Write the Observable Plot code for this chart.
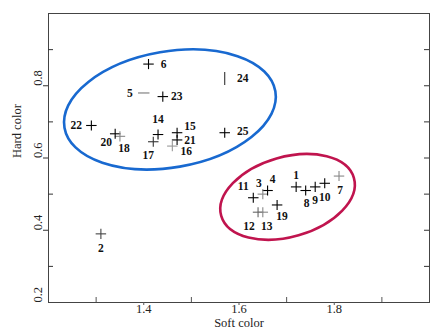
<!DOCTYPE html>
<html><head><meta charset="utf-8">
<script src="https://cdn.jsdelivr.net/npm/d3@7"></script>
<script src="https://cdn.jsdelivr.net/npm/@observablehq/plot@0.6"></script>
<style>body{margin:0;background:#fff}</style>
</head><body><div id="chart"></div>
<script>
// ---- data ----
const ids   = [1,2,3,4,5,6,7,8,9,10,11,12,13,14,15,16,17,18,19,20,21,22,23,24,25];
const soft  = [1.72,1.31,1.65,1.66,1.40,1.41,1.81,1.74,1.76,1.78,1.63,1.64,1.65,1.43,1.47,1.46,1.42,1.35,1.68,1.34,1.47,1.29,1.44,1.57,1.57];
const hard  = [0.52,0.39,0.50,0.51,0.78,0.86,0.55,0.51,0.52,0.53,0.49,0.45,0.45,0.665,0.67,0.633,0.645,0.66,0.47,0.667,0.65,0.69,0.77,0.82,0.67];
const softErr = [0.011,0.011,0.011,0.011,0.012,0.011,0.011,0.011,0.011,0.011,0.011,0.011,0.011,0.011,0.011,0.011,0.011,0.011,0.011,0.011,0.011,0.011,0.011,0,0.011];
const hardErr = [0.014,0.014,0.014,0.014,0,0.014,0.014,0.014,0.014,0.014,0.014,0.014,0.014,0.014,0.014,0.014,0.014,0.014,0.014,0.014,0.014,0.014,0.014,0.018,0.014];
const tone  = ["#000","#444","#888","#000","#777","#000","#888","#000","#000","#000","#000","#666","#888","#000","#000","#999","#333","#888","#000","#000","#000","#000","#000","#333","#000"];
const xTicks = [1.4,1.6,1.8];
const xMinor = [1.3,1.5,1.7,1.9];
const yTicks = [0.2,0.4,0.6,0.8];
const yMinor = [0.3,0.5,0.7,0.9];
const yAll = [0.3,0.4,0.5,0.6,0.7,0.8,0.9];

// ---- layout (label offsets in px, ellipse shapes) ----
const labelOffset = {1:[0,-12],2:[0,14],3:[-4,-11],4:[5,-11],5:[-14,0],6:[15,0],7:[1,14],8:[1,13],9:[0,13],10:[0,14],
  11:[-10,-11],12:[-9,14],13:[4,14],14:[0,-15],15:[13,-6],16:[14,5],17:[-5,14],18:[4,12],19:[5,11],20:[-9,9],
  21:[13,0],22:[-15,0],23:[14,0],24:[18,0],25:[18,-1]};
const ellipses = [
  {cx:1.456, cy:0.733, rx:107, ry:58, angle:9.8, stroke:"#1869d0"},
  {cx:1.703, cy:0.491, rx:69, ry:40, angle:16, stroke:"#c0144e"}
];

const points = ids.map((id,i)=>({id, x:soft[i], y:hard[i], xe:softErr[i], ye:hardErr[i], c:tone[i]}));

const W=447,H=335,mL=48,mR=18,mT=13,mB=33;
const pw=W-mL-mR, ph=H-mT-mB;
const serif = "Liberation Serif, DejaVu Serif, serif";

function ellipseMark(e){
  return (index, scales) => {
    const el = document.createElementNS("http://www.w3.org/2000/svg","ellipse");
    const cx = scales.x(e.cx), cy = scales.y(e.cy);
    el.setAttribute("cx", cx); el.setAttribute("cy", cy);
    el.setAttribute("rx", e.rx); el.setAttribute("ry", e.ry);
    el.setAttribute("transform", `rotate(${-e.angle} ${cx} ${cy})`);
    el.setAttribute("fill","none"); el.setAttribute("stroke", e.stroke);
    el.setAttribute("stroke-width", 2.6);
    return el;
  };
}

const plot = Plot.plot({
  width:W, height:H, marginLeft:mL, marginRight:mR, marginTop:mT, marginBottom:mB,
  x:{domain:[1.2,2.0], axis:null},
  y:{domain:[0.2,1.0], axis:null},
  color:{type:"identity"},
  style:{fontFamily:serif, background:"#fff"},
  marks:[
    Plot.frame({stroke:"#444"}),
    Plot.tickY(yTicks.filter(d=>d>0.2), {y:d=>d, insetLeft:-5, insetRight:pw, stroke:"#333"}),
    Plot.tickY(yMinor, {y:d=>d, insetRight:pw-5, stroke:"#333"}),
    Plot.tickY(yAll, {y:d=>d, insetLeft:pw-5, stroke:"#333"}),
    Plot.tickX(xMinor, {x:d=>d, insetTop:ph-5, stroke:"#555"}),
    Plot.tickX(xTicks, {x:d=>d, insetTop:ph, insetBottom:-3, stroke:"#555"}),
    Plot.text(yTicks, {y:d=>d, text:d=>d.toFixed(1), frameAnchor:"left", dx:-11, rotate:-90, fontSize:12.5, fill:"#222"}),
    Plot.text(xTicks, {x:d=>d, text:d=>d.toFixed(1), frameAnchor:"bottom", dy:10, fontSize:12.5, fill:"#222"}),
    Plot.text(["Soft color"], {frameAnchor:"bottom", dy:24, fontSize:12.5, fill:"#222"}),
    Plot.text(["Hard color"], {frameAnchor:"left", dx:-32, rotate:-90, fontSize:12.5, fill:"#222"}),
    ellipseMark(ellipses[0]),
    ellipseMark(ellipses[1]),
    Plot.link(points.filter(d=>d.xe>0), {x1:d=>d.x-d.xe, x2:d=>d.x+d.xe, y1:"y", y2:"y", stroke:"c", strokeWidth:1.1}),
    Plot.link(points.filter(d=>d.ye>0), {x1:"x", x2:"x", y1:d=>d.y-d.ye, y2:d=>d.y+d.ye, stroke:"c", strokeWidth:1.1}),
    ...points.map(p => Plot.text([p], {x:"x", y:"y", text:d=>String(d.id), dx:labelOffset[p.id][0], dy:labelOffset[p.id][1],
      fontSize:11.5, fontWeight:"bold", fill:"#111"}))
  ]
});
document.getElementById("chart").appendChild(plot);
</script>
</body></html>
